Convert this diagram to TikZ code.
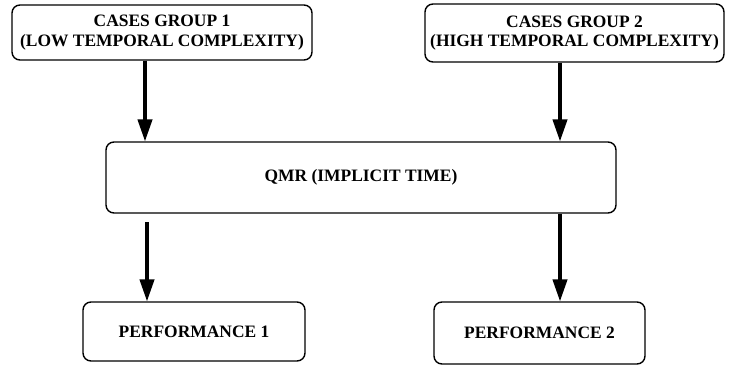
\documentclass[tikz,border=0pt]{standalone}
\usepackage{fontspec}
\setmainfont{Liberation Serif}
\usepackage{tikz}
\usetikzlibrary{arrows.meta}

\begin{document}
\begin{tikzpicture}[line width = 1pt,
                        box/.style = {draw, rounded corners = 0.2cm, align = center, inner sep = 0pt,
                                      font = \fontsize{12.4}{13.8}\selectfont\bfseries},
                        flow/.style = {line width = 2.2pt, -{Triangle[length = 0.55cm, width = 0.36cm]}}]
      \useasboundingbox (0, 0) rectangle (18.35, -9.15);
      \node [box, minimum width = 7.5cm, minimum height = 1.375cm] (cases1) at (4.05, -0.8125){CASES GROUP 1\\(LOW TEMPORAL COMPLEXITY)};
      \node [box, minimum width = 7.475cm, minimum height = 1.45cm] (cases2) at (14.3625, -0.825){CASES GROUP 2\\(HIGH TEMPORAL COMPLEXITY)};
      \node [box, minimum width = 12.75cm, minimum height = 1.775cm] (qmr) at (9.025, -4.4375){QMR (IMPLICIT TIME)};
      \node [box, minimum width = 5.55cm, minimum height = 1.475cm] (perf1) at (4.85, -8.2875){PERFORMANCE 1};
      \node [box, minimum width = 5.275cm, minimum height = 1.55cm] (perf2) at (13.4875, -8.325){PERFORMANCE 2};
      \coordinate (left) at (3.625, 0);
      \coordinate (right) at (14.0, 0);
      \coordinate (gap) at (3.675, -5.55);
      \draw [flow] (cases1.south -| left) -- (qmr.north -| left);
      \draw [flow] (cases2.south -| right) -- (qmr.north -| right);
      \draw [flow] (gap) -- (perf1.north -| gap);
      \draw [flow] (qmr.south -| right) -- (perf2.north -| right);
    \end{tikzpicture}
\end{document}
